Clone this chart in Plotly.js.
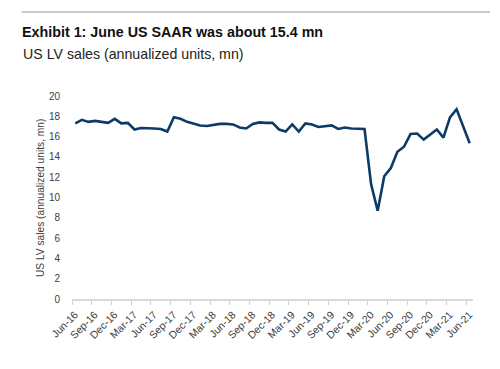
<!DOCTYPE html>
<html>
<head>
<meta charset="utf-8">
<script src="https://cdn.plot.ly/plotly-3.0.1.min.js"></script>
<style>html,body{margin:0;padding:0;background:#fff;}#chart{width:500px;height:369px;}</style>
</head>
<body>
<div id="chart"></div>
<script>
// Monthly categories Jun-16 .. Jun-21
const months = ["Jun-16","Jul-16","Aug-16","Sep-16","Oct-16","Nov-16","Dec-16",
  "Jan-17","Feb-17","Mar-17","Apr-17","May-17","Jun-17","Jul-17","Aug-17","Sep-17","Oct-17","Nov-17","Dec-17",
  "Jan-18","Feb-18","Mar-18","Apr-18","May-18","Jun-18","Jul-18","Aug-18","Sep-18","Oct-18","Nov-18","Dec-18",
  "Jan-19","Feb-19","Mar-19","Apr-19","May-19","Jun-19","Jul-19","Aug-19","Sep-19","Oct-19","Nov-19","Dec-19",
  "Jan-20","Feb-20","Mar-20","Apr-20","May-20","Jun-20","Jul-20","Aug-20","Sep-20","Oct-20","Nov-20","Dec-20",
  "Jan-21","Feb-21","Mar-21","Apr-21","May-21","Jun-21"];
// US LV sales, SAAR (mn)
const saar = [17.3,17.65,17.45,17.55,17.45,17.35,17.75,
  17.3,17.35,16.7,16.85,16.85,16.8,16.75,16.5,17.9,17.75,17.45,17.25,
  17.1,17.05,17.15,17.25,17.25,17.2,16.9,16.8,17.25,17.4,17.35,17.35,
  16.7,16.5,17.2,16.5,17.3,17.2,16.95,17.0,17.1,16.75,16.9,16.8,
  16.8,16.75,11.3,8.7,12.1,12.9,14.5,15.0,16.25,16.3,15.7,16.2,
  16.7,15.9,17.9,18.7,17.0,15.35];
// Tick labels shown every quarter
const tickLabels = ["Jun-16","Sep-16","Dec-16","Mar-17","Jun-17","Sep-17","Dec-17","Mar-18","Jun-18","Sep-18","Dec-18",
  "Mar-19","Jun-19","Sep-19","Dec-19","Mar-20","Jun-20","Sep-20","Dec-20","Mar-21","Jun-21"];

const xIdx = months.map((m, i) => i);
const tickVals = tickLabels.map(l => months.indexOf(l) - 0.5);

const L = 72.3, R = 473, T = 96, B = 299.3, W = 500, H = 369;
const px = v => (v - L) / (R - L);
const py = v => (B - v) / (B - T);

const trace = {
  x: xIdx, y: saar, customdata: months,
  type: 'scatter', mode: 'lines',
  line: {color: '#0d3a66', width: 2.6},
  hovertemplate: '%{customdata}: %{y}<extra></extra>'
};

const layout = {
  width: W, height: H,
  margin: {l: L, r: W - R, t: T, b: H - B, pad: 0},
  paper_bgcolor: '#fff', plot_bgcolor: '#fff',
  showlegend: false,
  font: {family: 'Liberation Sans, Arial, sans-serif', color: '#404040', size: 10.5},
  title: {
    text: '<b>Exhibit 1: June US SAAR was about 15.4 mn</b>',
    font: {family: 'Liberation Sans, Arial, sans-serif', size: 14.3, color: '#111'},
    xref: 'container', yref: 'container', x: 22 / W, xanchor: 'left',
    y: 1 - 26.5 / H, yanchor: 'top'
  },
  annotations: [{
    text: 'US LV sales (annualized units, mn)',
    xref: 'paper', yref: 'paper', x: px(21), y: py(44), xanchor: 'left', yanchor: 'top',
    showarrow: false,
    font: {family: 'Liberation Sans, Arial, sans-serif', size: 14.2, color: '#222'}
  }, {
    text: 'US LV sales (annualized units, mn)',
    xref: 'paper', yref: 'paper', x: px(41.5), y: py(198), xanchor: 'center', yanchor: 'middle',
    textangle: -90, showarrow: false,
    font: {family: 'Liberation Sans, Arial, sans-serif', size: 10.2, color: '#404040'}
  }],
  shapes: [{
    type: 'line', xref: 'paper', yref: 'paper',
    x0: px(22), x1: px(490), y0: py(12), y1: py(12),
    line: {color: '#b8b8b8', width: 1.5}
  }],
  xaxis: {
    range: [-0.5, months.length - 0.5],
    tickmode: 'array', tickvals: tickVals, ticktext: tickLabels,
    tickangle: -45, ticklabelshift: 3,
    ticks: 'outside', ticklen: 4, tickcolor: '#d0d0d0', tickwidth: 1,
    showline: true, linecolor: '#d9d9d9', linewidth: 1.5,
    showgrid: false, zeroline: false,
    tickfont: {size: 10.5, color: '#404040'},
    fixedrange: true
  },
  yaxis: {
    range: [0, 20], dtick: 2, tick0: 0,
    showline: false, showgrid: false, zeroline: false, ticks: '',
    ticklabelstandoff: 11,
    tickfont: {size: 10, color: '#404040'},
    fixedrange: true
  }
};

Plotly.newPlot('chart', [trace], layout, {displayModeBar: false, staticPlot: true});
</script>
</body>
</html>
